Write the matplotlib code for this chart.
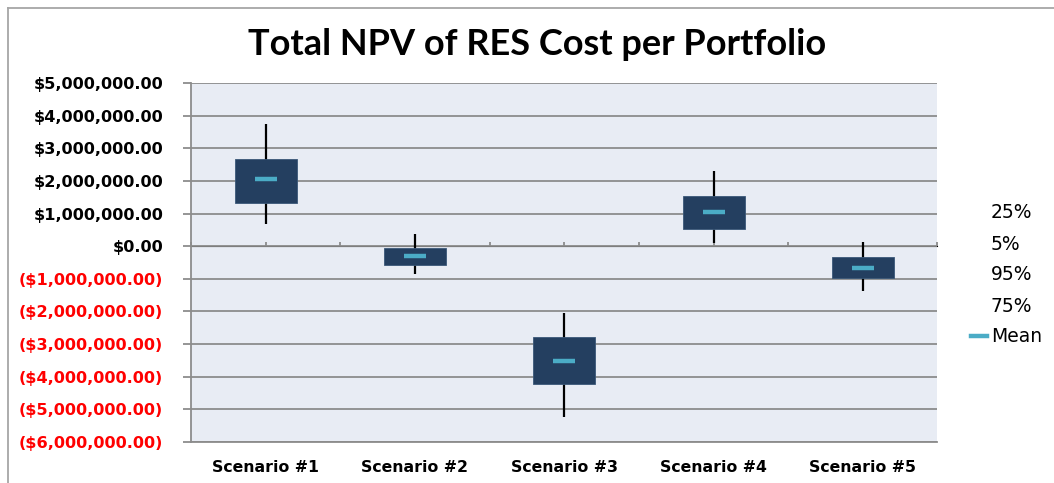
import matplotlib
matplotlib.use("Agg")
import matplotlib.pyplot as plt
from matplotlib.lines import Line2D
from matplotlib.ticker import FuncFormatter, MultipleLocator
import numpy as np

categories = ["Scenario #1", "Scenario #2", "Scenario #3", "Scenario #4", "Scenario #5"]
p5 = [0.69e6, -0.85e6, -5.23e6, 0.11e6, -1.39e6]
p25 = [1.34e6, -0.58e6, -4.22e6, 0.53e6, -0.99e6]
p75 = [2.68e6, -0.06e6, -2.80e6, 1.53e6, -0.34e6]
p95 = [3.74e6, 0.37e6, -2.06e6, 2.30e6, 0.14e6]
mean = [2.07e6, -0.30e6, -3.53e6, 1.06e6, -0.68e6]
legend_labels = ["25%", "5%", "95%", "75%", "Mean"]

NAVY = "#243F60"
MEANC = "#4BACC6"
GRID = "#8C8C8C"

fig = plt.figure(figsize=(10.54, 4.83), dpi=100)
ax = fig.add_axes([191/1054, 1 - 441.7/483, (937.5-191)/1054, (441.7-83.3)/483])
ax.set_facecolor("#E8ECF4")

x = np.arange(len(categories))
ax.vlines(x, p5, p95, color="black", lw=1.6, zorder=2)
ax.bar(x, np.array(p75) - np.array(p25), bottom=p25, width=0.415,
       color=NAVY, edgecolor="#3A5878", linewidth=0.6, zorder=3)
ax.plot(x, mean, linestyle="none", marker="_", markersize=16, mew=3.2,
        color=MEANC, zorder=4)

ax.set_xlim(-0.5, len(categories) - 0.5)
ax.set_ylim(-6e6, 5e6)
ax.yaxis.set_major_locator(MultipleLocator(1e6))
ax.grid(axis="y", color=GRID, lw=1.3, zorder=1)
ax.set_axisbelow(True)


def fmt(v, pos):
    if v < 0:
        return "(${:,.2f})".format(-v)
    return "${:,.2f}".format(v)


ax.yaxis.set_major_formatter(FuncFormatter(fmt))
ax.tick_params(axis="y", direction="out", length=6, width=1.3, color=GRID, pad=14,
               labelsize=11.6)
for lab in ax.get_yticklabels():
    lab.set_fontweight("bold")
    lab.set_fontfamily("DejaVu Sans")
fig.canvas.draw()
for lab, v in zip(ax.get_yticklabels(), ax.get_yticks()):
    lab.set_color("#FF0000" if v < 0 else "black")

ax.set_xticks(x)
ax.set_xticklabels(categories, fontweight="bold", fontsize=11.3)
ax.tick_params(axis="x", length=0, pad=13)

for s in ["top", "right"]:
    ax.spines[s].set_visible(False)
ax.spines["left"].set_color(GRID)
ax.spines["left"].set_linewidth(1.3)
ax.spines["bottom"].set_color(GRID)
ax.spines["bottom"].set_linewidth(1.3)

# zero axis with tick marks
sec = ax.secondary_xaxis(6/11)
sec.set_xticks(np.arange(-0.5, len(categories), 0.5))
sec.tick_params(axis="x", direction="out", length=3, width=1.3, color=GRID,
                labelbottom=False, labeltop=False)
sec.spines["bottom"].set_color(GRID)
sec.spines["bottom"].set_linewidth(1.3)

handles = [Line2D([], [], color="none") for _ in range(4)]
handles.append(Line2D([], [], color=MEANC, lw=3.2))
leg = fig.legend(handles, legend_labels, loc="center left",
                 bbox_to_anchor=(971/1054, 1 - 275/483), frameon=False,
                 fontsize=13.5, handlelength=0.85, handletextpad=0.2,
                 labelspacing=0.64, borderpad=0, borderaxespad=0)

fig.suptitle("Total NPV of RES Cost per Portfolio", fontfamily="Lato",
             fontweight="bold", fontsize=26, y=1 - 44.5/483, va="center", x=0.51)

# chart border
fig.add_artist(Line2D([8/1054, 8/1054], [0, 1 - 8/483], transform=fig.transFigure,
                      color="#A6A6A6", lw=1.3))
fig.add_artist(Line2D([8/1054, 1], [1 - 8/483, 1 - 8/483], transform=fig.transFigure,
                      color="#A6A6A6", lw=1.3))

fig.savefig("out.png", dpi=100)
